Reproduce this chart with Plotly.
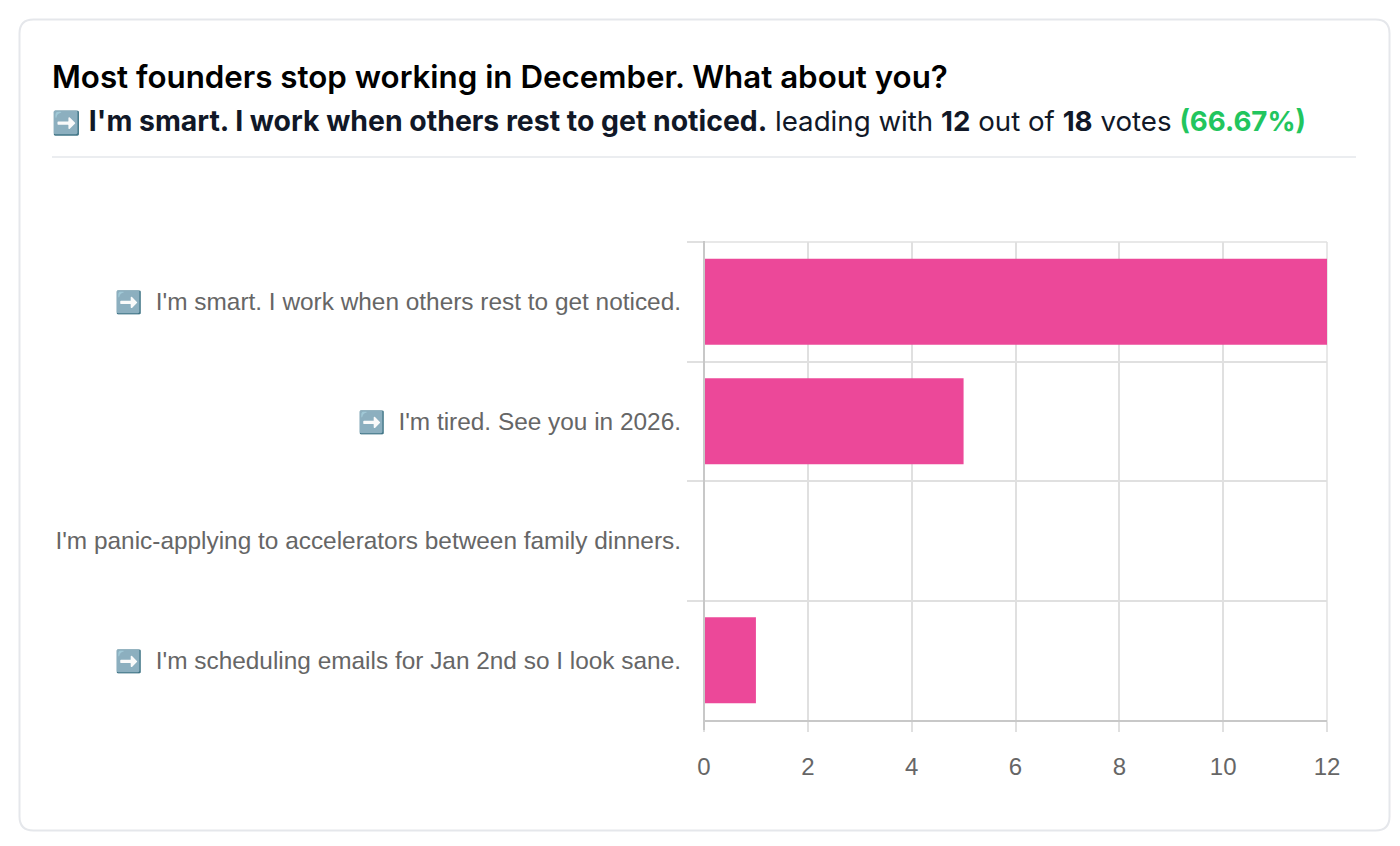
import plotly.graph_objects as go

ARROW = "<span style='font-size:22px'>➡️</span>"
categories = [
    f"{ARROW}  I'm smart. I work when others rest to get noticed.",
    f"{ARROW}  I'm tired. See you in 2026.",
    "I'm panic-applying to accelerators between family dinners.",
    f"{ARROW}  I'm scheduling emails for Jan 2nd so I look sane.",
]
votes = [12, 5, 0, 1]
title_text = "Most founders stop working in December. What about you?"
subtitle_text = (
    "<span style='font-size:23px'>➡️</span> "
    "<span style='font-size:28.4px'><b>I'm smart. I work when others rest to get noticed.</b></span> leading with "
    "<b>12</b> out of <b>18</b> votes <span style='color:#22c55e'><b>(66.67%)</b></span>"
)

L, R, T, B = 704, 1327, 242, 720
W, H = 1400, 846


def px(x):
    return (x - L) / (R - L)


def py(y):
    return (B - y) / (B - T)


def card(x0, y0, x1, y1, r):
    return (
        f"M {px(x0 + r)} {py(y0)} L {px(x1 - r)} {py(y0)} "
        f"Q {px(x1)} {py(y0)} {px(x1)} {py(y0 + r)} L {px(x1)} {py(y1 - r)} "
        f"Q {px(x1)} {py(y1)} {px(x1 - r)} {py(y1)} L {px(x0 + r)} {py(y1)} "
        f"Q {px(x0)} {py(y1)} {px(x0)} {py(y1 - r)} L {px(x0)} {py(y0 + r)} "
        f"Q {px(x0)} {py(y0)} {px(x0 + r)} {py(y0)} Z"
    )


fig = go.Figure(
    go.Bar(
        x=votes,
        y=categories,
        orientation="h",
        width=0.72,
        marker=dict(color="#ec4899", line=dict(width=0)),
    )
)

fig.update_layout(
    width=W,
    height=H,
    autosize=False,
    margin=dict(l=L, r=W - R, t=T, b=H - B, pad=0),
    paper_bgcolor="white",
    plot_bgcolor="white",
    showlegend=False,
    font=dict(family="Liberation Sans", color="#666666", size=24),
    shapes=[
        dict(type="path", xref="paper", yref="paper", path=card(19.5, 19.5, 1389.5, 830.5, 14),
             line=dict(color="#e5e7eb", width=2), fillcolor="white", layer="below"),
        dict(type="line", xref="paper", yref="paper", x0=px(52), x1=px(1356), y0=py(157), y1=py(157),
             line=dict(color="#e5e7eb", width=1.5), layer="below"),
        dict(type="line", xref="paper", yref="paper", x0=px(688), x1=1, y0=1, y1=1,
             line=dict(color="#e0e0e0", width=1.5), layer="below"),
        dict(type="line", xref="paper", yref="paper", x0=1, x1=1, y0=py(730), y1=1,
             line=dict(color="#e0e0e0", width=1.5), layer="below"),
        dict(type="line", xref="paper", yref="paper", x0=0, x1=0, y0=py(730), y1=py(241),
             line=dict(color="#c8c8c8", width=2), layer="above"),
    ],
    annotations=[
        dict(text=title_text, xref="paper", yref="paper", x=px(52), y=py(77), xanchor="left",
             yanchor="middle", showarrow=False, borderpad=0, borderwidth=0,
             font=dict(family="Inter", size=31.3, weight=600, color="#000000")),
        dict(text=subtitle_text, xref="paper", yref="paper", x=px(52), y=py(120), xanchor="left",
             yanchor="middle", showarrow=False, borderpad=0, borderwidth=0,
             font=dict(family="Inter", size=27.7, color="#111827")),
    ],
)

fig.update_xaxes(
    range=[0, 12],
    tick0=0,
    dtick=2,
    ticks="outside",
    ticklen=10,
    tickwidth=1.5,
    tickcolor="#e0e0e0",
    ticklabelstandoff=14,
    showgrid=True,
    gridcolor="#e0e0e0",
    gridwidth=1.5,
    showline=True,
    linecolor="#c8c8c8",
    linewidth=2,
    zeroline=False,
    tickfont=dict(family="Liberation Sans", size=24, color="#666666"),
    automargin=False,
)
fig.update_yaxes(
    categoryorder="array",
    categoryarray=categories,
    autorange="reversed",
    tickson="boundaries",
    ticks="outside",
    ticklen=16,
    tickwidth=1.5,
    tickcolor="#e0e0e0",
    ticklabelstandoff=22,
    showgrid=True,
    gridcolor="#e0e0e0",
    gridwidth=1.5,
    showline=False,
    zeroline=False,
    tickfont=dict(family="Liberation Sans", size=24.4, color="#666666"),
    automargin=False,
)

fig.write_html("out.html", config={"displayModeBar": False},
               post_script="document.body.style.margin='0';")
